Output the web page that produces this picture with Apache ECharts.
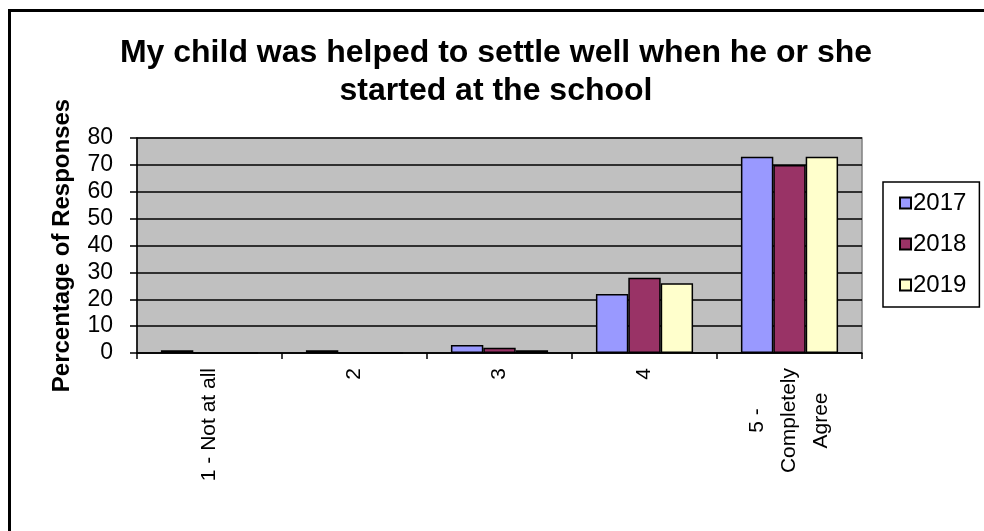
<!DOCTYPE html>
<html>
<head>
<meta charset="utf-8">
<script src="https://cdn.jsdelivr.net/npm/echarts@6/dist/echarts.min.js"></script>
<style>html,body{margin:0;padding:0;background:#fff}#c{width:984px;height:531px}</style>
</head>
<body>
<div id="c"></div>
<script>
var categories = ['1 - Not at all', '2', '3', '4', '5 - Completely Agree'];
var labelLines = {'5 - Completely Agree': ['5 -', 'Completely', 'Agree']};
var years = ['2017', '2018', '2019'];
var values2017 = [1, 1, 3, 22, 73];
var values2018 = [0, 0, 2, 28, 70];
var values2019 = [0, 0, 1, 26, 73];
var yTicks = [0, 10, 20, 30, 40, 50, 60, 70, 80];
var colors = ['#9999FF', '#993366', '#FFFFCC'];

var font = '"Liberation Sans", Arial, sans-serif';
var chart = echarts.init(document.getElementById('c'));
var seriesData = [values2017, values2018, values2019];
chart.setOption({
  animation: false,
  textStyle: {fontFamily: font},
  title: {
    text: 'My child was helped to settle well when he or she\nstarted at the school',
    left: 491, top: 29, textAlign: 'center',
    textStyle: {fontFamily: font, fontSize: 32, fontWeight: 'bold', color: '#000', lineHeight: 38}
  },
  graphic: [{
    type: 'rect', shape: {x: 9.5, y: 10.5, width: 1100, height: 700},
    style: {fill: 'none', stroke: '#000', lineWidth: 3}, silent: true
  }],
  legend: {
    orient: 'vertical', left: 883, top: 182,
    padding: [9, 13, 10, 16], itemGap: 17,
    itemWidth: 11, itemHeight: 11,
    borderColor: '#000', borderWidth: 1.5,
    icon: 'rect',
    textStyle: {fontFamily: font, fontSize: 24, lineHeight: 24, color: '#000', padding: [0, 0, 0, -3]},
    data: years
  },
  grid: {
    left: 137, right: 122, top: 138, bottom: 178,
    show: true, backgroundColor: '#C0C0C0', borderColor: '#808080', borderWidth: 1.5
  },
  xAxis: {
    type: 'category', data: categories,
    axisLine: {lineStyle: {color: '#000', width: 1.5}},
    axisTick: {show: true, length: 6, lineStyle: {color: '#000', width: 1.5}},
    axisLabel: {
      rotate: 90, margin: 15, fontSize: 21, color: '#000', lineHeight: 32,
      formatter: function (v) {
        var lines = labelLines[v] || [v];
        return lines.map(function (l) { return '{c|' + l + '}'; }).join('\n');
      },
      rich: {c: {align: 'center', fontSize: 21, fontFamily: font, color: '#000', lineHeight: 32}}
    }
  },
  yAxis: {
    type: 'value', min: yTicks[0], max: yTicks[yTicks.length - 1], interval: 10,
    name: 'Percentage of Responses', nameLocation: 'middle', nameGap: 63,
    nameTextStyle: {fontFamily: font, fontSize: 24, fontWeight: 'bold', color: '#000'},
    axisLine: {show: true, lineStyle: {color: '#000', width: 1.5}},
    axisTick: {show: true, length: 7, lineStyle: {color: '#000', width: 1.5}},
    axisLabel: {fontSize: 23, color: '#000', margin: 24},
    splitLine: {lineStyle: {color: '#000', width: 1.5}}
  },
  series: years.map(function (y, i) {
    return {
      name: y, type: 'bar', data: seriesData[i],
      barGap: '0%', barCategoryGap: '33%',
      itemStyle: {color: colors[i], borderColor: '#000', borderWidth: 1.5}
    };
  })
});
</script>
</body>
</html>
